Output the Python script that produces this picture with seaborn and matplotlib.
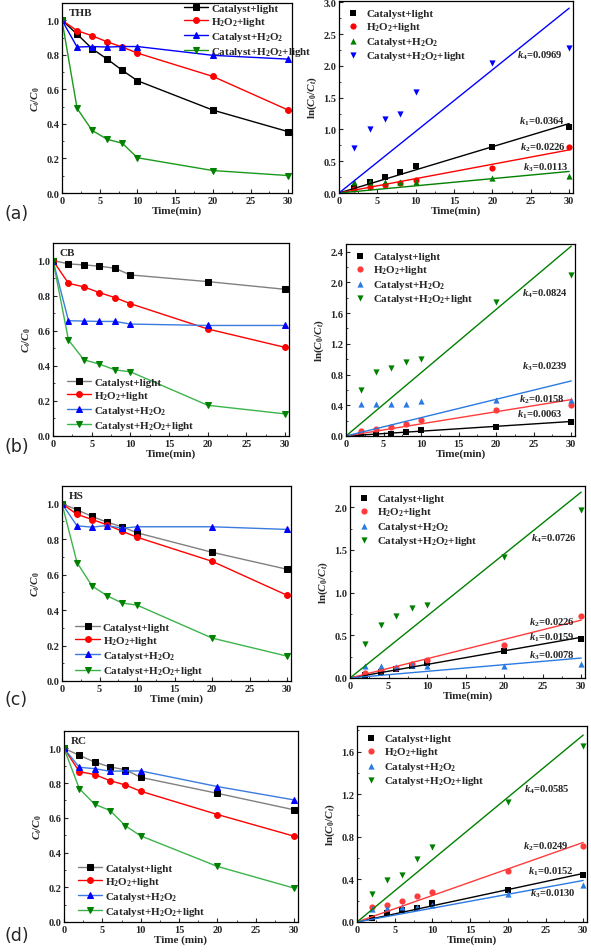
import matplotlib
matplotlib.use("Agg")
import matplotlib.pyplot as plt
import seaborn as sns
from matplotlib.ticker import MultipleLocator

# ── DATA ──────────────────────────────────────────────────────────────────────
TIME     = [0, 2, 4, 6, 8, 10, 20, 30]
TIME_FIT = [2, 4, 6, 8, 10, 20, 30]
SERIES   = ["Catalyst+light", r"H$_2$O$_2$+light",
            r"Catalyst+H$_2$O$_2$", r"Catalyst+H$_2$O$_2$+light"]
DYES     = ["THB", "CB", "HS", "RC"]
TAGS     = ["(a)", "(b)", "(c)", "(d)"]

# C_t/C_0  (Catalyst+light, H2O2+light, Catalyst+H2O2, Catalyst+H2O2+light)
THB_CT = [[1.0, 0.92, 0.835, 0.775, 0.71, 0.65, 0.48, 0.355],
          [1.0, 0.94, 0.91, 0.875, 0.845, 0.81, 0.675, 0.48],
          [1.0, 0.845, 0.848, 0.845, 0.848, 0.848, 0.797, 0.775],
          [1.0, 0.49, 0.362, 0.311, 0.288, 0.204, 0.130, 0.101]]
CB_CT  = [[1.0, 0.981, 0.975, 0.968, 0.956, 0.918, 0.880, 0.836],
          [1.0, 0.870, 0.850, 0.817, 0.789, 0.754, 0.610, 0.505],
          [1.0, 0.657, 0.655, 0.653, 0.653, 0.638, 0.630, 0.630],
          [1.0, 0.547, 0.434, 0.410, 0.377, 0.366, 0.175, 0.126]]
HS_CT  = [[1.0, 0.966, 0.928, 0.896, 0.870, 0.836, 0.726, 0.630],
          [1.0, 0.940, 0.911, 0.881, 0.845, 0.811, 0.675, 0.483],
          [1.0, 0.875, 0.868, 0.877, 0.862, 0.870, 0.870, 0.855],
          [1.0, 0.668, 0.536, 0.481, 0.440, 0.428, 0.242, 0.140]]
RC_CT  = [[1.0, 0.960, 0.921, 0.893, 0.877, 0.833, 0.741, 0.646],
          [1.0, 0.866, 0.849, 0.814, 0.789, 0.753, 0.619, 0.494],
          [1.0, 0.891, 0.883, 0.868, 0.870, 0.870, 0.780, 0.703],
          [1.0, 0.768, 0.678, 0.642, 0.554, 0.496, 0.320, 0.195]]

# ln(C_0/C_t)
THB_LN = [[0.08, 0.17, 0.25, 0.33, 0.43, 0.73, 1.04],
          [0.06, 0.09, 0.12, 0.16, 0.21, 0.39, 0.73],
          [0.17, 0.17, 0.17, 0.17, 0.17, 0.23, 0.26],
          [0.71, 1.01, 1.16, 1.24, 1.59, 2.04, 2.28]]
CB_LN  = [[0.01, 0.02, 0.03, 0.05, 0.08, 0.12, 0.18],
          [0.06, 0.09, 0.12, 0.16, 0.21, 0.34, 0.41],
          [0.42, 0.42, 0.42, 0.42, 0.45, 0.47, 0.47],
          [0.60, 0.83, 0.89, 0.97, 1.00, 1.74, 2.09]]
HS_LN  = [[0.03, 0.07, 0.10, 0.14, 0.17, 0.32, 0.46],
          [0.06, 0.09, 0.12, 0.16, 0.21, 0.39, 0.73],
          [0.14, 0.14, 0.13, 0.15, 0.14, 0.14, 0.16],
          [0.40, 0.62, 0.73, 0.82, 0.85, 1.42, 1.97]]
RC_LN  = [[0.04, 0.08, 0.11, 0.13, 0.18, 0.30, 0.44],
          [0.14, 0.16, 0.20, 0.24, 0.28, 0.48, 0.71],
          [0.12, 0.13, 0.14, 0.14, 0.16, 0.26, 0.35],
          [0.26, 0.39, 0.44, 0.59, 0.70, 1.13, 1.65]]

# rate constants k1..k4
THB_K = [0.0364, 0.0226, 0.0113, 0.0969]
CB_K  = [0.0063, 0.0158, 0.0239, 0.0824]
HS_K  = [0.0159, 0.0226, 0.0078, 0.0726]
RC_K  = [0.0152, 0.0249, 0.0130, 0.0585]

CT_ALL = [THB_CT, CB_CT, HS_CT, RC_CT]
LN_ALL = [THB_LN, CB_LN, HS_LN, RC_LN]
K_ALL  = [THB_K, CB_K, HS_K, RC_K]

# ── LAYOUT / STYLE ────────────────────────────────────────────────────────────
W, H = 591, 953
LEFT_BOX  = [(62, 292, 4, 194), (53, 289, 244, 437), (62, 291, 487, 682), (64, 298, 732, 923)]
RIGHT_BOX = [(339, 573, 2, 194), (346, 575, 245, 437), (350, 585, 487, 679), (357, 587, 727, 923)]
RIGHT_YLIM  = [3.02, 2.5, 2.25, 1.84]
RIGHT_YSTEP = [0.5, 0.4, 0.5, 0.4]
XLABEL_L = ["Time(min)", "Time(min)", "Time (min)", "Time (min)"]
TAG_Y    = [214, 447, 700, 936]
# k-label anchor (x, y) in data coords, order k1..k4
K_POS = [[(23.4, 1.13), (23.6, 0.73), (24.0, 0.41), (23.2, 2.17)],
         [(22.8, 0.29), (23.05, 0.49), (23.4, 0.91), (23.5, 1.87)],
         [(23.2, 0.48), (23.2, 0.665), (23.2, 0.27), (23.5, 1.64)],
         [(22.7, 0.48), (22.0, 0.72), (22.9, 0.27), (22.1, 1.25)]]

MARKERS = ["s", "o", "^", "v"]
# (line colour, marker colour) for decay panels
DECAY_COL_A = [("#000000", "#000000"), ("#ff0000", "#ff0000"),
               ("#0000ff", "#0000ff"), ("#1a9a1a", "#008000")]
DECAY_COL   = [("#808080", "#000000"), ("#ff0000", "#ff0000"),
               ("#3a7be0", "#0000ff"), ("#3cb44b", "#008000")]
KIN_COL_A   = ["#000000", "#ff0000", "#008000", "#0000ff"]
KIN_COL     = ["#000000", "#ff3b3b", "#2a7ae2", "#008000"]

sns.set_style("ticks")
plt.rcParams["font.family"] = ["Liberation Serif", "DejaVu Serif"]
plt.rcParams["font.weight"] = "bold"
plt.rcParams["axes.labelweight"] = "bold"
plt.rcParams["mathtext.fontset"] = "custom"
plt.rcParams["mathtext.rm"] = "Liberation Serif:bold"
plt.rcParams["mathtext.bf"] = "Liberation Serif:bold"
plt.rcParams["mathtext.it"] = "Liberation Serif:italic:bold"

FS_TICK, FS_LAB, FS_LEG, FS_K = 7.5, 8, 7.9, 7.6


def make_ax(fig, box):
    l, r, t, b = box
    return fig.add_axes([l / W, 1 - b / H, (r - l) / W, (b - t) / H])


def style_ax(ax, ystep):
    ax.set_xlim(0, 30.5)
    ax.xaxis.set_major_locator(MultipleLocator(5))
    ax.xaxis.set_minor_locator(MultipleLocator(2.5))
    ax.yaxis.set_major_locator(MultipleLocator(ystep))
    ax.yaxis.set_minor_locator(MultipleLocator(ystep / 2))
    ax.tick_params(which="major", direction="in", length=3, width=0.8,
                   labelsize=FS_TICK, pad=2)
    ax.tick_params(which="minor", direction="in", length=1.5, width=0.6)
    for sp in ax.spines.values():
        sp.set_visible(True)
        sp.set_linewidth(0.9)
        sp.set_color("black")


fig = plt.figure(figsize=(W / 100, H / 100), dpi=100)

for i in range(4):
    # ── decay curves ──
    ax = make_ax(fig, LEFT_BOX[i])
    cols = DECAY_COL_A if i == 0 else DECAY_COL
    for j in range(4):
        lc, mc = cols[j]
        sns.lineplot(x=TIME, y=CT_ALL[i][j], ax=ax, color=lc, linewidth=1,
                     marker=MARKERS[j], markersize=4.2, markerfacecolor=mc,
                     markeredgecolor=mc, label=SERIES[j])
    ax.set_ylim(0, 1.1)
    style_ax(ax, 0.2)
    ax.set_xlabel(XLABEL_L[i], fontsize=FS_LAB, labelpad=0.5)
    ax.set_ylabel(r"$C_t/C_0$", fontsize=FS_LAB, labelpad=3)
    ax.text(0.9, 1.045, DYES[i], fontsize=FS_LAB, fontweight="bold", va="center")
    if i == 0:
        loc, anchor = "upper left", (0.5, 1.035)
    else:
        loc, anchor = "lower left", (0.03, -0.015)
    ax.legend(loc=loc, bbox_to_anchor=anchor, frameon=False, fontsize=FS_LEG,
              handlelength=2.2, handletextpad=0.3, labelspacing=0.2,
              borderaxespad=0.2)

    # ── kinetics ──
    ax2 = make_ax(fig, RIGHT_BOX[i])
    kcols = KIN_COL_A if i == 0 else KIN_COL
    for j in range(4):
        k = K_ALL[i][j]
        sns.lineplot(x=[0, 30], y=[0, 30 * k], ax=ax2, color=kcols[j], linewidth=1)
        sns.scatterplot(x=TIME_FIT, y=LN_ALL[i][j], ax=ax2, color=kcols[j],
                        marker=MARKERS[j], s=20, linewidth=0, label=SERIES[j])
        kx, ky = K_POS[i][j]
        ax2.text(kx, ky, rf"$k_{j + 1}$=" + f"{k:.4f}", fontsize=FS_K,
                 fontweight="bold", va="center")
    ax2.set_ylim(0, RIGHT_YLIM[i])
    style_ax(ax2, RIGHT_YSTEP[i])
    ax2.set_xlabel("Time(min)", fontsize=FS_LAB, labelpad=0.5)
    ax2.set_ylabel(r"ln($C_0$/$C_t$)", fontsize=FS_LAB, labelpad=3)
    ax2.legend(loc="upper left", bbox_to_anchor=(0.0, 1.0), frameon=False,
               fontsize=FS_LEG, handlelength=1.2, handletextpad=0.6,
               labelspacing=0.15, borderaxespad=0.3)

    fig.text(5 / W, 1 - TAG_Y[i] / H, TAGS[i], fontsize=12.5,
             family="DejaVu Sans", fontweight="normal", va="center")

fig.savefig("out.png", dpi=100)
